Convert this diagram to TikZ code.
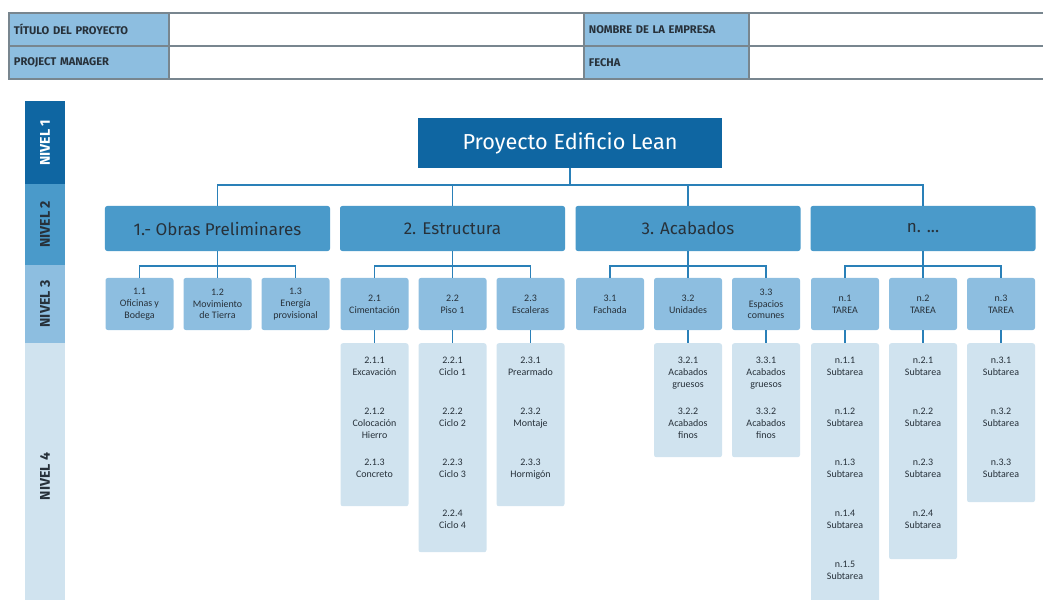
\documentclass[tikz,border=0pt]{standalone}
\usepackage{fontspec}
\setmainfont{Carlito}
\newfontfamily\titfont{Fira Sans}
\usetikzlibrary{calc,positioning}
\definecolor{nivA}{HTML}{0F66A2}
\definecolor{nivB}{HTML}{4A9ACA}
\definecolor{nivC}{HTML}{8DBEE0}
\definecolor{nivD}{HTML}{D0E3EF}
\definecolor{linec}{HTML}{2A80B8}
\definecolor{gridc}{HTML}{78868F}
\definecolor{txtc}{HTML}{27313A}
\tikzset{
  hlab/.style={draw=gridc,line width=1.5pt,fill=nivC,anchor=north west,minimum height=0.99cm,
    inner xsep=0.15cm,align=left,text=txtc,font=\titfont\bfseries\fontsize{9.5}{11}\selectfont},
  hval/.style={draw=gridc,line width=1.5pt,fill=white,anchor=north west,minimum height=0.99cm},
  nivel/.style={rotate=90,minimum height=1.2cm,inner sep=0pt,text=txtc,font=\titfont\bfseries\fontsize{12}{14}\selectfont},
  root/.style={fill=nivA,text=white,minimum width=9.12cm,minimum height=1.5cm,font=\titfont\fontsize{18.5}{22}\selectfont},
  lvtwo/.style={fill=nivB,rounded corners=2pt,text=txtc,minimum width=6.75cm,minimum height=1.35cm,font=\titfont\fontsize{14.5}{17}\selectfont},
  lvthree/.style={fill=nivC,rounded corners=2pt,text=txtc,align=center,inner sep=1pt,minimum width=2.04cm,minimum height=1.56cm,font=\fontsize{8.5}{10}\selectfont},
  lvfour/.style={fill=nivD,rounded corners=2pt,anchor=north,minimum width=2.04cm,minimum height=#1},
  item/.style={anchor=north,align=center,inner sep=0pt,text=txtc,font=\fontsize{8.5}{10}\selectfont},
  ln/.style={draw=linec,line width=1.5pt}
}
\begin{document}
\begin{tikzpicture}[x=0.03cm,y=-0.03cm]
\useasboundingbox (0,0) rectangle (1043,600);
% cabecera
\node[hlab,text width=4.5cm] (tit) at (8,12) {TÍTULO DEL PROYECTO};
\node[hval,minimum width=12.45cm] (titv) at (168,12) {};
\node[hlab,text width=4.65cm] (emp) at (583,12) {NOMBRE DE LA EMPRESA};
\node[hval,minimum width=9.2cm] (empv) at (748,12) {};
\node[hlab,text width=4.5cm] (pm) at (8,45) {PROJECT MANAGER};
\node[hval,minimum width=12.45cm] (pmv) at (168,45) {};
\node[hlab,text width=4.65cm] (fec) at (583,45) {FECHA};
\node[hval,minimum width=9.2cm] (fecv) at (748,45) {};

% niveles
\node[nivel,fill=nivA,text=white,minimum width=2.49cm] (n1) at (45,142.5) {NIVEL 1};
\node[nivel,fill=nivB,minimum width=2.43cm] (n2) at (45,224.5) {NIVEL 2};
\node[nivel,fill=nivC,minimum width=2.34cm] (n3) at (45,304) {NIVEL 3};
\node[nivel,fill=nivD,minimum width=8.01cm] (n4) at (45,476.5) {NIVEL 4};

% nivel 1 y 2
\node[root] (pry) at (570,143) {Proyecto Edificio Lean};
\node[lvtwo] (o1) at (217.5,228.5) {1.- Obras Preliminares};
\node[lvtwo] (o2) at (452.5,228.5) {2. Estructura};
\node[lvtwo] (o3) at (688,228.5) {3. Acabados};
\node[lvtwo] (o4) at (923,228.5) {n. ...};
\foreach \c in {o1,o2,o3,o4}
  \draw[ln] (pry.south) -- ++(0,17) -| (\c.north);

% nivel 3
\node[lvthree] (o11) at (139.5,304) {1.1\\Oficinas y\\Bodega};
\node[lvthree] (o12) at (217.5,304) {1.2\\Movimiento\\de Tierra};
\node[lvthree] (o13) at (295.5,304) {1.3\\Energía\\provisional};
\node[lvthree] (o21) at (374.5,304) {2.1\\Cimentación};
\node[lvthree] (o22) at (452.5,304) {2.2\\Piso 1};
\node[lvthree] (o23) at (530.5,304) {2.3\\Escaleras};
\node[lvthree] (o31) at (610,304) {3.1\\Fachada};
\node[lvthree] (o32) at (688,304) {3.2\\Unidades};
\node[lvthree] (o33) at (766,304) {3.3\\Espacios\\comunes};
\node[lvthree] (o41) at (845,304) {n.1\\TAREA};
\node[lvthree] (o42) at (923,304) {n.2\\TAREA};
\node[lvthree] (o43) at (1001,304) {n.3\\TAREA};
\foreach \p/\c in {o1/o11,o1/o12,o1/o13,o2/o21,o2/o22,o2/o23,o3/o31,o3/o32,o3/o33,o4/o41,o4/o42,o4/o43}
  \draw[ln] (\p.south) -- ++(0,15) -| (\c.north);

% nivel 4
\node[lvfour=4.89cm] (d21) at (374.5,343) {};
\node[lvfour=6.27cm] (d22) at (452.5,343) {};
\node[lvfour=4.89cm] (d23) at (530.5,343) {};
\node[lvfour=3.42cm] (d32) at (688,343) {};
\node[lvfour=3.42cm] (d33) at (766,343) {};
\node[lvfour=8.1cm] (d41) at (845,343) {};
\node[lvfour=6.48cm] (d42) at (923,343) {};
\node[lvfour=4.77cm] (d43) at (1001,343) {};
\foreach \a/\b in {o21/d21,o22/d22,o23/d23,o32/d32,o33/d33,o41/d41,o42/d42,o43/d43}
  \draw[ln] (\a.south) -- (\b.north);

\foreach \t [count=\k] in {{2.1.1\\Excavación},{2.1.2\\Colocación\\Hierro},{2.1.3\\Concreto}}
  \node[item] (d21-\k) at ($(d21.north)+(0,\k*51-37)$) {\t};
\foreach \k in {1,...,4}
  \node[item] (d22-\k) at ($(d22.north)+(0,\k*51-37)$) {2.2.\k\\Ciclo \k};
\foreach \t [count=\k] in {{2.3.1\\Prearmado},{2.3.2\\Montaje},{2.3.3\\Hormigón}}
  \node[item] (d23-\k) at ($(d23.north)+(0,\k*51-37)$) {\t};
\foreach \t [count=\k] in {{3.2.1\\Acabados\\gruesos},{3.2.2\\Acabados\\finos}}
  \node[item] (d32-\k) at ($(d32.north)+(0,\k*51-37)$) {\t};
\foreach \t [count=\k] in {{3.3.1\\Acabados\\gruesos},{3.3.2\\Acabados\\finos}}
  \node[item] (d33-\k) at ($(d33.north)+(0,\k*51-37)$) {\t};
\foreach \k in {1,...,5}
  \node[item] (d41-\k) at ($(d41.north)+(0,\k*51-37)$) {n.1.\k\\Subtarea};
\foreach \k in {1,...,4}
  \node[item] (d42-\k) at ($(d42.north)+(0,\k*51-37)$) {n.2.\k\\Subtarea};
\foreach \k in {1,...,3}
  \node[item] (d43-\k) at ($(d43.north)+(0,\k*51-37)$) {n.3.\k\\Subtarea};
\end{tikzpicture}
\end{document}
